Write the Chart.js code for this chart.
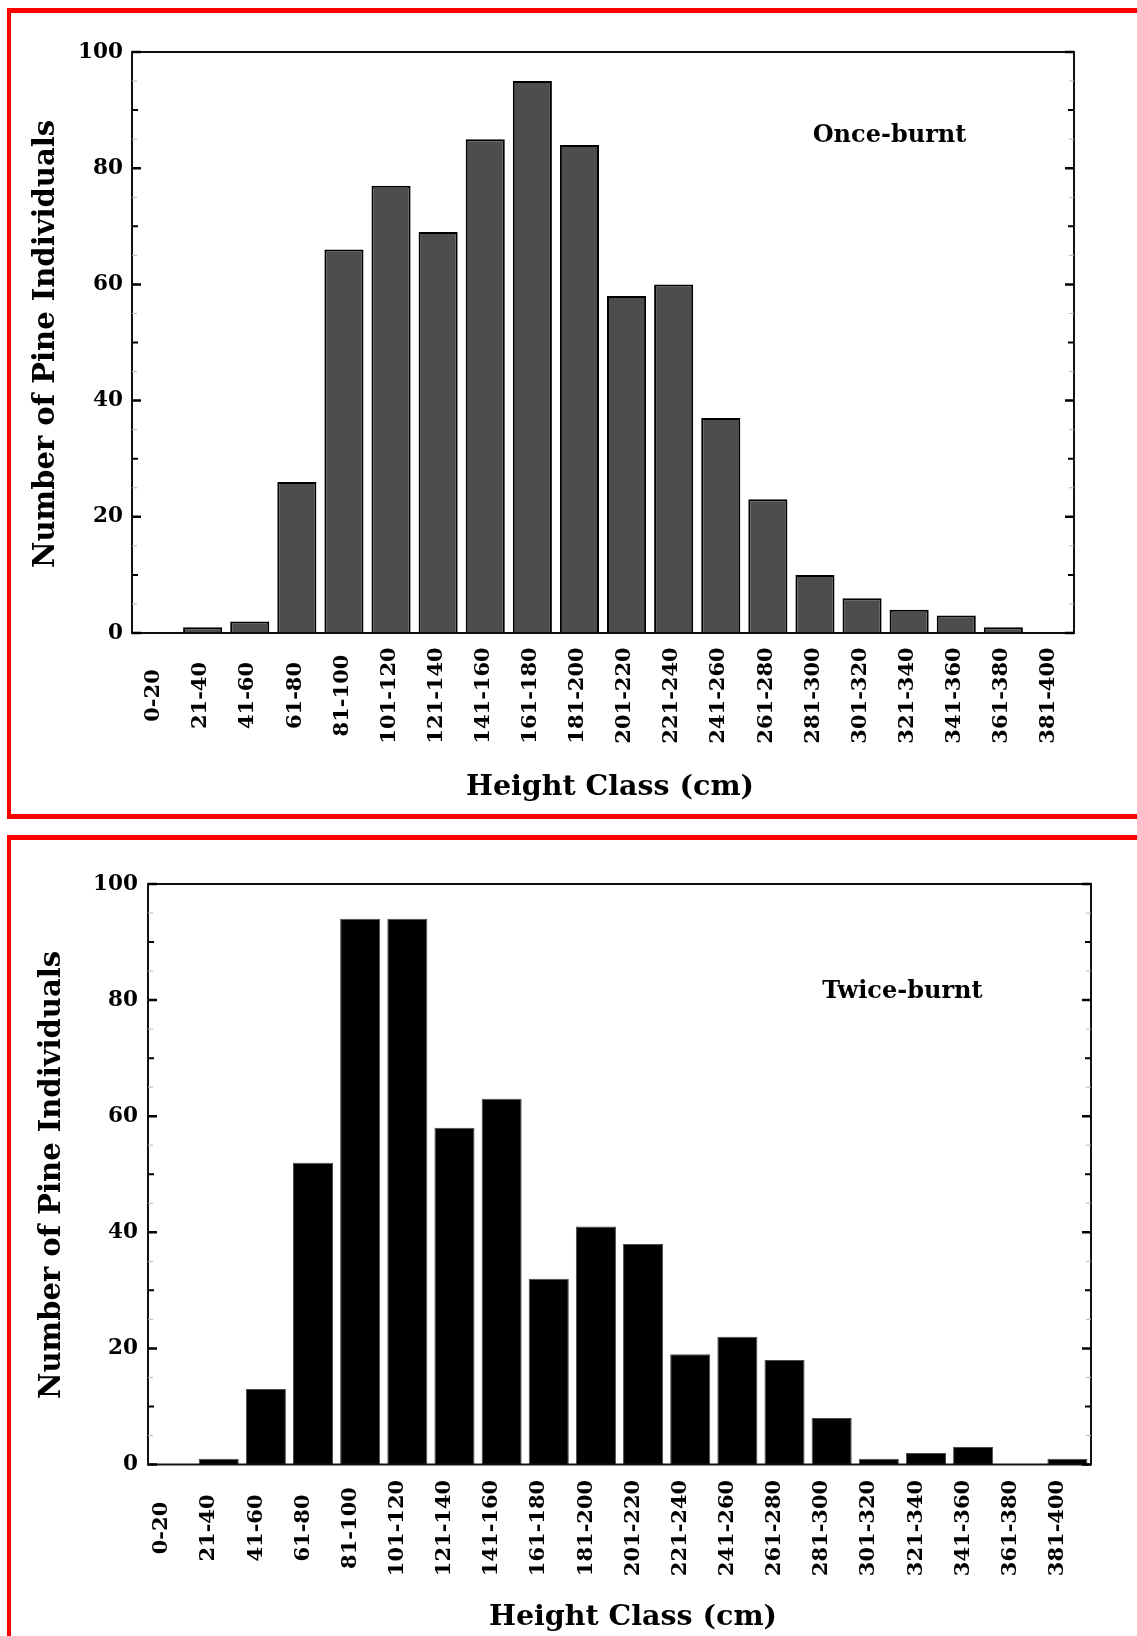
<!DOCTYPE html>
<html>
<head>
<meta charset="utf-8">
<title>Pine height class distribution</title>
<script src="https://cdn.jsdelivr.net/npm/chart.js@4.4.1/dist/chart.umd.min.js"></script>
<style>
  html, body { margin: 0; padding: 0; width: 1137px; height: 1636px; overflow: hidden; background: #fff; }
  .frame { position: absolute; box-sizing: border-box; border: 5px solid #ff0000; border-right: none; border-left-width: 4px; }
  #frame1 { left: 7px; top: 8px; width: 1200px; height: 811px; }
  #frame2 { left: 7px; top: 835px; width: 1200px; height: 900px; border-bottom: none; }
  canvas { position: absolute; left: 0; }
  #onceChart { top: 0; width: 1137px; height: 825px; }
  #twiceChart { top: 825px; width: 1137px; height: 811px; }
</style>
</head>
<body>
<div class="frame" id="frame1"></div>
<div class="frame" id="frame2"></div>
<canvas id="onceChart" width="1137" height="825"></canvas>
<canvas id="twiceChart" width="1137" height="811"></canvas>
<script>
// Height classes (cm) shared by both stands
const heightClasses = [
  '0-20', '21-40', '41-60', '61-80', '81-100', '101-120', '121-140', '141-160',
  '161-180', '181-200', '201-220', '221-240', '241-260', '261-280', '281-300',
  '301-320', '321-340', '341-360', '361-380', '381-400'
];

// Number of pine individuals per height class
const onceBurntCounts  = [0, 1, 2, 26, 66, 77, 69, 85, 95, 84, 58, 60, 37, 23, 10, 6, 4, 3, 1, 0];
const twiceBurntCounts = [0, 1, 13, 52, 94, 94, 58, 63, 32, 41, 38, 19, 22, 18, 8, 1, 2, 3, 0, 1];

// Labelled values on the count axis
const countTicks = [0, 20, 40, 60, 80, 100];

const xTitle = 'Height Class (cm)';
const yTitle = 'Number of Pine Individuals';

const SERIF = '"DejaVu Serif", "Liberation Serif", serif';

// Frame, inward tick marks, rotated class labels, axis titles and stand label
const axisDecor = {
  id: 'axisDecor',
  afterDatasetsDraw(chart, args, o) {
    const { ctx, chartArea: a, scales: { x, y } } = chart;
    ctx.save();

    // plot frame
    ctx.strokeStyle = '#111';
    ctx.lineWidth = 2;
    ctx.strokeRect(a.left, a.top, a.right - a.left, a.bottom - a.top);

    // major (20), minor (10) and fine (5) tick marks on both vertical sides
    for (let v = y.min; v <= y.max; v += 5) {
      const py = y.getPixelForValue(v);
      let len, w, col;
      if (v % 20 === 0) { len = 9; w = 2.5; col = '#000'; }
      else if (v % 10 === 0) { len = 6; w = 2; col = '#000'; }
      else { len = 5; w = 1; col = '#b4b4b4'; }
      ctx.strokeStyle = col;
      ctx.lineWidth = w;
      ctx.beginPath();
      ctx.moveTo(a.left, py);  ctx.lineTo(a.left + len, py);
      ctx.moveTo(a.right, py); ctx.lineTo(a.right - len, py);
      ctx.stroke();
    }

    ctx.fillStyle = '#000';

    // vertical class labels, centred on a common line below the axis
    const tickSize = 21;
    ctx.font = `bold ${tickSize}px ${SERIF}`;
    ctx.textAlign = 'center';
    ctx.textBaseline = 'alphabetic';
    chart.data.labels.forEach((lab, i) => {
      const cx = x.getPixelForValue(i) + o.labelShift;
      ctx.save();
      ctx.translate(cx, o.labelMidY);
      ctx.rotate(-Math.PI / 2);
      ctx.fillText(lab, 0, tickSize * 0.729 / 2);
      ctx.restore();
    });

    // axis titles
    ctx.font = `bold 28.5px ${SERIF}`;
    ctx.textAlign = 'center';
    ctx.fillText(xTitle, o.xTitleX, o.xTitleBase);

    ctx.font = `bold 29px ${SERIF}`;
    ctx.save();
    ctx.translate(o.yTitleBase, o.yTitleY);
    ctx.rotate(-Math.PI / 2);
    ctx.fillText(yTitle, 0, 0);
    ctx.restore();

    // stand label inside the plot
    ctx.font = `bold 24px ${SERIF}`;
    ctx.fillText(o.standLabel, o.standX, o.standBase);

    ctx.restore();
  }
};

function makePanel(canvasId, counts, look) {
  const canvas = document.getElementById(canvasId);
  return new Chart(canvas, {
    type: 'bar',
    data: {
      labels: heightClasses,
      datasets: [{
        data: counts,
        backgroundColor: look.fill,
        borderColor: look.edge,
        borderWidth: look.edgeWidth,
        borderSkipped: 'start',
        barPercentage: look.barPct,
        categoryPercentage: 1.0
      }]
    },
    options: {
      responsive: false,
      maintainAspectRatio: false,
      devicePixelRatio: 1,
      animation: false,
      events: [],
      layout: { padding: { left: 0, top: look.padTop, right: look.padRight, bottom: 0 } },
      scales: {
        x: {
          type: 'category',
          offset: true,
          grid: { display: false, drawTicks: false },
          border: { display: false },
          ticks: { display: false },
          afterFit: s => { s.height = look.xHeight; }
        },
        y: {
          min: 0,
          max: 100,
          grid: { display: false, drawTicks: false, tickLength: 0 },
          border: { display: false },
          afterBuildTicks: s => { s.ticks = countTicks.map(v => ({ value: v })); },
          ticks: {
            color: '#000',
            padding: look.tickPad,
            font: { family: SERIF, size: 21.5, weight: 'bold' }
          },
          afterFit: s => { s.width = look.yWidth; }
        }
      },
      plugins: {
        legend: { display: false },
        tooltip: { enabled: false },
        axisDecor: look.decor
      }
    },
    plugins: [axisDecor]
  });
}

makePanel('onceChart', onceBurntCounts, {
  fill: '#4d4d4d', edge: '#000', edgeWidth: 2, barPct: 0.83,
  padTop: 52, padRight: 63, xHeight: 192, yWidth: 132, tickPad: 9,
  decor: {
    labelShift: -4, labelMidY: 695.5,
    xTitleX: 610, xTitleBase: 795,
    yTitleBase: 53.5, yTitleY: 344,
    standLabel: 'Once-burnt', standX: 889.5, standBase: 141.5
  }
});

makePanel('twiceChart', twiceBurntCounts, {
  fill: '#000', edge: '#4a4a4a', edgeWidth: 1, barPct: 0.85,
  padTop: 59, padRight: 46, xHeight: 171.5, yWidth: 148, tickPad: 10,
  decor: {
    labelShift: -12, labelMidY: 703,
    xTitleX: 633, xTitleBase: 800,
    yTitleBase: 59.5, yTitleY: 350,
    standLabel: 'Twice-burnt', standX: 902.5, standBase: 173.3
  }
});
</script>
</body>
</html>
